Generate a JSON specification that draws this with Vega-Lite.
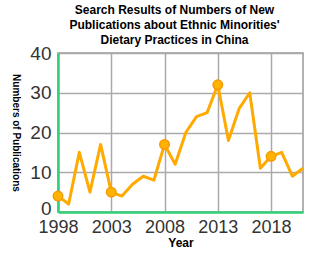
{
  "$schema": "https://vega.github.io/schema/vega-lite/v6.json",
  "width": 245,
  "height": 159,
  "autosize": "none",
  "padding": {"left": 58, "top": 53, "right": 16, "bottom": 42},
  "background": "white",
  "title": {
    "text": ["Search Results of Numbers of New", "Publications about Ethnic Minorities'", "Dietary Practices in China"],
    "font": "Liberation Sans",
    "fontSize": 12,
    "fontWeight": "bold",
    "color": "#000000",
    "anchor": "middle",
    "frame": "group",
    "dx": -6,
    "offset": -3,
    "lineHeight": 15
  },
  "config": {
    "view": {"stroke": "#999999", "strokeWidth": 1.5},
    "axis": {"labelFont": "Liberation Sans", "titleFont": "Liberation Sans"}
  },
  "data": {
    "values": [
      {"year": 1998, "count": 4, "marked": true},
      {"year": 1999, "count": 2, "marked": false},
      {"year": 2000, "count": 15, "marked": false},
      {"year": 2001, "count": 5, "marked": false},
      {"year": 2002, "count": 17, "marked": false},
      {"year": 2003, "count": 5, "marked": true},
      {"year": 2004, "count": 4, "marked": false},
      {"year": 2005, "count": 7, "marked": false},
      {"year": 2006, "count": 9, "marked": false},
      {"year": 2007, "count": 8, "marked": false},
      {"year": 2008, "count": 17, "marked": true},
      {"year": 2009, "count": 12, "marked": false},
      {"year": 2010, "count": 20, "marked": false},
      {"year": 2011, "count": 24, "marked": false},
      {"year": 2012, "count": 25, "marked": false},
      {"year": 2013, "count": 32, "marked": true},
      {"year": 2014, "count": 18, "marked": false},
      {"year": 2015, "count": 26, "marked": false},
      {"year": 2016, "count": 30, "marked": false},
      {"year": 2017, "count": 11, "marked": false},
      {"year": 2018, "count": 14, "marked": true},
      {"year": 2019, "count": 15, "marked": false},
      {"year": 2020, "count": 9, "marked": false},
      {"year": 2021, "count": 11, "marked": false}
    ]
  },
  "encoding": {
    "x": {
      "field": "year",
      "type": "quantitative",
      "scale": {"domain": [1998, 2021], "nice": false, "zero": false},
      "axis": {
        "title": "Year",
        "values": [1998, 2003, 2008, 2013, 2018],
        "format": "d",
        "labelOverlap": false,
        "labelBound": false,
        "labelFlush": false,
        "grid": true,
        "gridColor": "#aaaaaa",
        "gridWidth": 1.5,
        "ticks": false,
        "domainColor": "#33d17a",
        "domainWidth": 2.5,
        "labelFontSize": 18,
        "labelColor": "#333333",
        "labelPadding": 6,
        "titleFontSize": 12,
        "titleFontWeight": "bold",
        "titleColor": "#000000",
        "titlePadding": 1
      }
    },
    "y": {
      "field": "count",
      "type": "quantitative",
      "scale": {"domain": [0, 40], "nice": false},
      "axis": {
        "title": "Numbers of Publications",
        "values": [0, 10, 20, 30, 40],
        "labelOverlap": false,
        "labelBound": false,
        "labelFlush": false,
        "labelOffset": {"expr": "datum.value == 0 ? -4 : 0"},
        "grid": true,
        "gridColor": "#aaaaaa",
        "gridWidth": 1.5,
        "ticks": false,
        "domainColor": "#33d17a",
        "domainWidth": 2.5,
        "labelFontSize": 19,
        "labelColor": "#333333",
        "labelPadding": 7,
        "titleFontSize": 10,
        "titleFontWeight": "bold",
        "titleColor": "#000000",
        "titleAngle": 90,
        "titleX": -43,
        "titleY": 79.5,
        "titleAlign": "center",
        "titleBaseline": "middle"
      }
    }
  },
  "layer": [
    {
      "mark": {"type": "line", "color": "#ffaa00", "strokeWidth": 3, "strokeJoin": "round"}
    },
    {
      "transform": [{"filter": "datum.marked"}],
      "mark": {"type": "point", "filled": true, "fill": "#ffb300", "stroke": "#f59a00", "strokeWidth": 1.5, "size": 90, "opacity": 1}
    }
  ]
}
